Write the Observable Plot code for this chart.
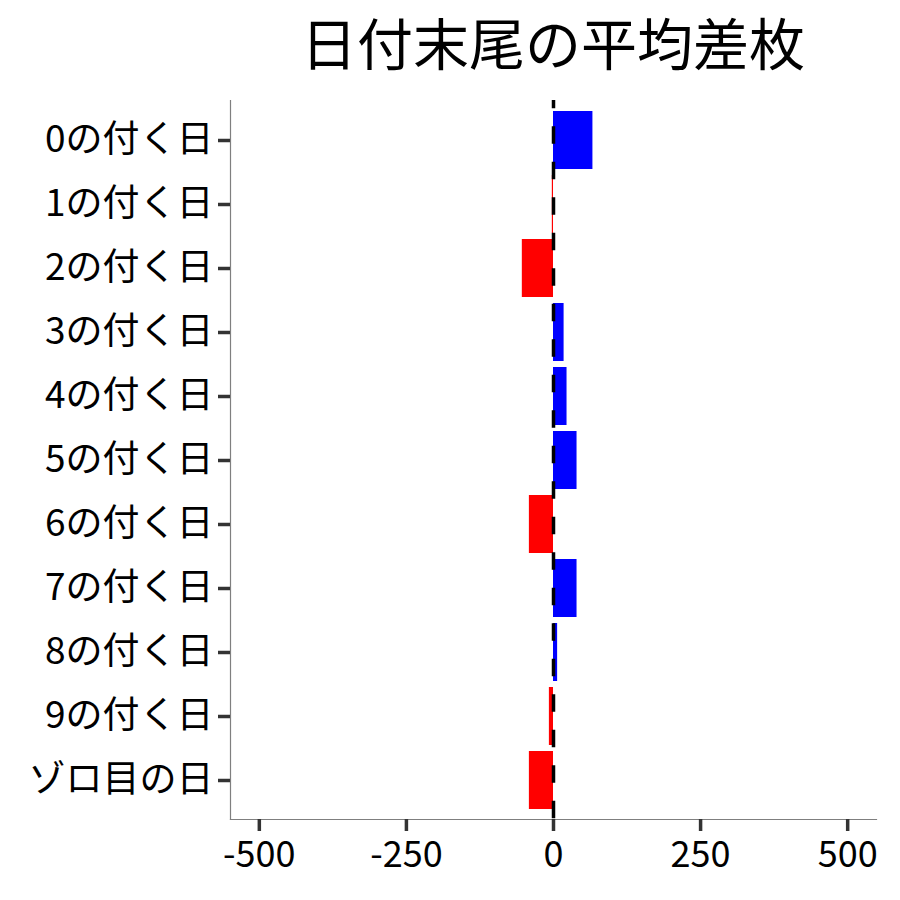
<!DOCTYPE html>
<html>
<head>
<meta charset="utf-8">
<script src="https://cdn.jsdelivr.net/npm/d3@7"></script>
<script src="https://cdn.jsdelivr.net/npm/@observablehq/plot@0.6"></script>
<style>
  html, body { margin: 0; padding: 0; background: #fff; }
  #wrap { position: relative; width: 900px; height: 900px; }
  #title {
    position: absolute; left: 230px; width: 646px; top: 13px;
    text-align: center; font-family: "Noto Sans CJK JP", sans-serif;
    font-size: 56px; line-height: 56px; color: #000;
  }
</style>
</head>
<body>
<div id="wrap">
  <div id="title">日付末尾の平均差枚</div>
</div>
<script>
const categories = ["0の付く日", "1の付く日", "2の付く日", "3の付く日", "4の付く日", "5の付く日", "6の付く日", "7の付く日", "8の付く日", "9の付く日", "ゾロ目の日"];
const values = [67, -2, -53, 18, 23, 40, -41, 40, 7, -7, -41];
const xTicks = [-500, -250, 0, 250, 500];
const xDomain = [-549, 549];

const data = categories.map((c, i) => ({ label: c, value: values[i] }));

const chart = Plot.plot({
  width: 900,
  height: 900,
  marginTop: 100,
  marginBottom: 81,
  marginLeft: 230,
  marginRight: 24,
  style: { fontFamily: "Noto Sans CJK JP, sans-serif", background: "white", color: "black", overflow: "visible" },
  x: { domain: xDomain, ticks: xTicks, label: null },
  y: { domain: categories, paddingInner: 0.1, paddingOuter: 0.15, label: null },
  marks: [
    Plot.barX(data, { x: "value", y: "label", fill: d => d.value > 0 ? "#0000FF" : "#FF0000" }),
    Plot.ruleX([0], { stroke: "black", strokeWidth: 3.5, strokeDasharray: "17.5,18", strokeDashoffset: 9.2 }),
    Plot.frame({ anchor: "left", stroke: "#7f7f7f", strokeWidth: 1.2 }),
    Plot.frame({ anchor: "bottom", stroke: "#7f7f7f", strokeWidth: 1.2 }),
    Plot.axisX(xTicks, { tickSize: 12, tickPadding: 10, stroke: "#333", strokeWidth: 3.5, fill: "black", fontSize: 36, tickFormat: d => String(d), label: null }),
    Plot.axisY({ tickSize: 12, tickPadding: 5, stroke: "#333", strokeWidth: 3.5, fill: "black", fontSize: 37, label: null })
  ]
});
document.getElementById("wrap").appendChild(chart);
</script>
</body>
</html>
